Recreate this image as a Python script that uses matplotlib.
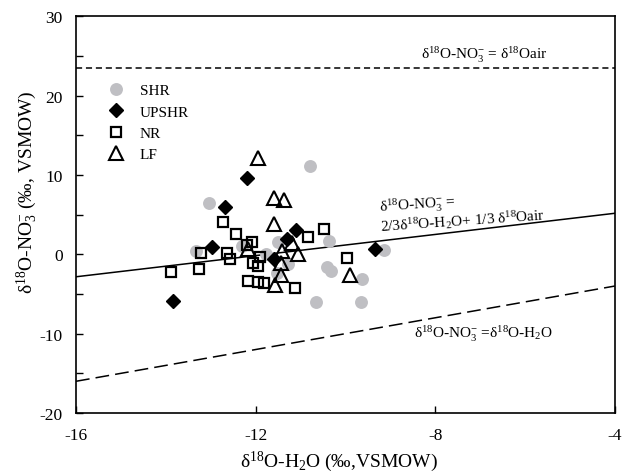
import numpy as np
import matplotlib
matplotlib.use('Agg')
import matplotlib.pyplot as plt
from matplotlib.ticker import MultipleLocator

plt.rcParams['font.family'] = 'Liberation Serif'
plt.rcParams['mathtext.fontset'] = 'custom'
plt.rcParams['mathtext.rm'] = 'Liberation Serif'
plt.rcParams['mathtext.it'] = 'Liberation Serif:italic'
plt.rcParams['mathtext.default'] = 'regular'
plt.rcParams['axes.unicode_minus'] = False

# d18O-H2O (x) and d18O-NO3 (y) per site group
shr_x = [-13.32, -13.04, -12.30, -11.76, -11.50, -11.28, -11.52, -10.78, -10.37, -10.40, -10.32, -10.65, -9.66, -9.63, -9.15]
shr_y = [0.45, 6.50, 1.08, 0.04, 1.50, -1.20, -2.30, 11.10, 1.70, -1.60, -2.05, -5.95, -5.95, -3.10, 0.50]

upshr_x = [-13.84, -12.97, -12.69, -12.20, -11.58, -11.29, -11.11, -9.33]
upshr_y = [-5.90, 0.88, 5.95, 9.65, -0.62, 1.88, 3.00, 0.67]

nr_x = [-13.89, -13.27, -13.21, -12.72, -12.63, -12.56, -12.44, -12.20, -12.07, -12.17,
        -12.05, -11.95, -11.91, -11.95, -11.81, -11.12, -10.84, -10.48, -9.97]
nr_y = [-2.18, -1.90, 0.13, 4.10, 0.13, -0.60, 2.55, 1.15, 1.60, -3.40,
        -1.05, -1.50, -0.38, -3.52, -3.62, -4.30, 2.22, 3.18, -0.50]

lf_x = [-11.95, -11.60, -11.36, -11.58, -12.16, -11.18, -11.41, -11.06, -11.44, -11.43, -11.57, -9.90]
lf_y = [12.08, 7.04, 6.80, 3.78, 0.70, 1.38, 0.45, 0.04, -1.12, -2.55, -3.84, -2.60]

d18o_air = 23.5

fig = plt.figure(figsize=(6.28, 4.77), dpi=100)
ax = fig.add_axes([0.121, 0.132, 0.858, 0.832])

xl = np.array([-16.0, -4.0])
ax.axhline(d18o_air, color='k', ls=(0, (4, 2.5)), lw=1.1)
ax.plot(xl, 2 / 3 * xl + d18o_air / 3, color='k', lw=1.1)
ax.plot(xl, xl, color='k', ls=(0, (9, 4)), lw=1.1)

ax.plot(shr_x, shr_y, ls='none', marker='o', ms=9.3, color='#bfbfc3', mec='none', label='SHR')
ax.plot(upshr_x, upshr_y, ls='none', marker='D', ms=7, color='k', mec='k', label='UPSHR')
ax.plot(nr_x, nr_y, ls='none', marker='s', ms=7.5, mfc='none', mec='k', mew=1.6, label='NR')
ax.plot(lf_x, lf_y, ls='none', marker='^', ms=10, mfc='none', mec='k', mew=1.5, label='LF')

ax.text(-8.31, 25.2, 'δ$^{18}$O-NO$_3^{-}$ = δ$^{18}$Oair', fontsize=11, va='center')
ax.text(-9.2, 2.45, 'δ$^{18}$O-NO$_3^{-}$ =\n2/3δ$^{18}$O-H$_2$O+ 1/3 δ$^{18}$Oair',
        fontsize=11, rotation=4, rotation_mode='anchor', va='bottom', ha='left', linespacing=1.0)
ax.text(-8.47, -9.9, 'δ$^{18}$O-NO$_3^{-}$ =δ$^{18}$O-H$_2$O', fontsize=11, va='center')

ax.set_xlim(-16, -4)
ax.set_ylim(-20, 30)
ax.set_xticks([-16, -12, -8, -4])
ax.set_yticks([-20, -10, 0, 10, 20, 30])
ax.yaxis.set_minor_locator(MultipleLocator(5))
ax.tick_params(direction='in', length=5, width=1, labelsize=12.5)
ax.tick_params(axis='x', pad=10)
ax.tick_params(axis='y', pad=9.5)
ax.tick_params(which='minor', direction='in', length=5, width=1)
for s in ax.spines.values():
    s.set_linewidth(1.2)

ax.set_xlabel('δ$^{18}$O-H$_2$O (‰,VSMOW)', fontsize=14)
ax.xaxis.set_label_coords(0.488, -0.09)
ax.set_ylabel('δ$^{18}$O-NO$_3^{-}$ (‰, VSMOW)', fontsize=14)
ax.yaxis.set_label_coords(-0.066, 0.56)

ax.legend(loc='upper left', bbox_to_anchor=(0.061, 0.83), frameon=False, fontsize=11,
          handlelength=1.0, handletextpad=1.04, labelspacing=0.5, borderaxespad=0, borderpad=0)

fig.savefig('out.png', dpi=100)
